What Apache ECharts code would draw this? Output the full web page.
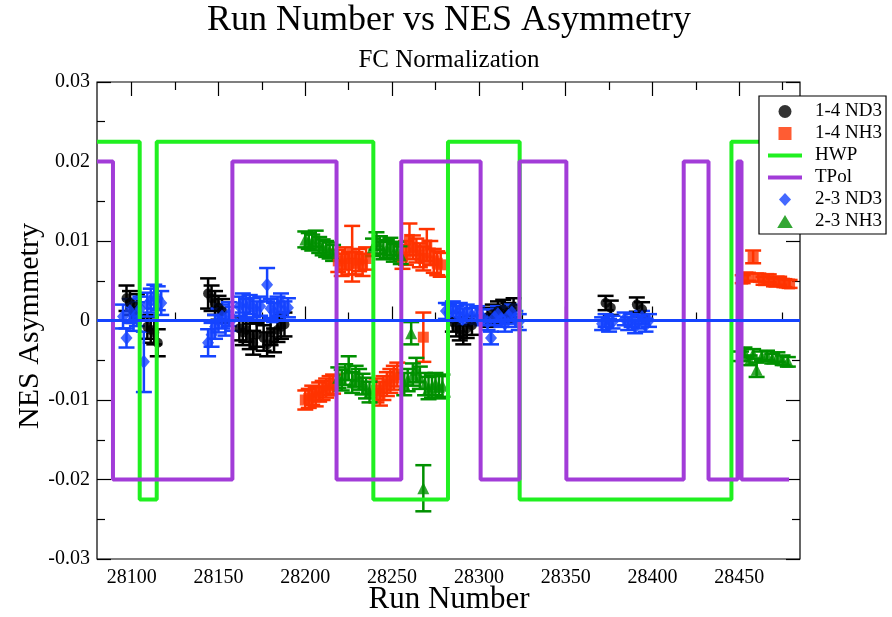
<!DOCTYPE html>
<html>
<head>
<meta charset="utf-8">
<script src="https://cdn.jsdelivr.net/npm/echarts@6/dist/echarts.min.js"></script>
<style>
  html, body { margin: 0; padding: 0; background: #fff; }
  #chart { width: 892px; height: 617px; }
</style>
</head>
<body>
<div id="chart"></div>
<script>
// axis ticks
const xMajorTicks = [28100, 28150, 28200, 28250, 28300, 28350, 28400, 28450];
const xMinorTicks = [28125, 28175, 28225, 28275, 28325, 28375, 28425, 28475];

// 1-4 ND3 (black circles)
const nd14Runs = [28097, 28099, 28101, 28103, 28109, 28111, 28113, 28115,
  28144, 28146, 28148, 28150, 28152,
  28162, 28164, 28166, 28168, 28170, 28172,
  28176, 28178, 28180, 28182, 28184, 28186, 28188,
  28285, 28287, 28289, 28291, 28293, 28296,
  28305, 28308, 28311, 28314, 28317, 28320,
  28373, 28376, 28391, 28394];
const nd14Vals = [0.0028, 0.0022, 0.0012, 0.0018, -0.0008, -0.0012, -0.0015, -0.0028,
  0.0034, 0.0028, 0.0022, 0.0016, 0.0012,
  -0.0010, -0.0015, -0.0012, -0.0020, -0.0028, -0.0018,
  -0.0022, -0.0030, -0.0015, -0.0025, -0.0012, -0.0008, -0.0005,
  -0.0002, -0.0008, -0.0012, -0.0018, -0.0010, -0.0006,
  0.0004, 0.0008, 0.0012, 0.0014, 0.0010, 0.0016,
  0.0022, 0.0016, 0.0020, 0.0014];
const nd14Errs = [0.0016, 0.0015, 0.0015, 0.0015, 0.0015, 0.0016, 0.0015, 0.0017,
  0.0019, 0.0016, 0.0015, 0.0015, 0.0015,
  0.0015, 0.0016, 0.0015, 0.0016, 0.0015, 0.0015,
  0.0016, 0.0015, 0.0016, 0.0015, 0.0015, 0.0015, 0.0015,
  0.0012, 0.0012, 0.0013, 0.0012, 0.0012, 0.0012,
  0.0012, 0.0012, 0.0012, 0.0012, 0.0012, 0.0012,
  0.0009, 0.0009, 0.0009, 0.0009];

// 1-4 NH3 (red squares)
const nh14Runs = [28200, 28202, 28204, 28206, 28208, 28210, 28212, 28214, 28216,
  28219, 28221, 28223, 28225, 28227, 28229, 28231, 28233, 28235,
  28241, 28243, 28245, 28247, 28249, 28251, 28253,
  28256, 28258, 28260, 28262, 28264, 28266, 28268, 28270, 28272, 28274, 28276, 28278,
  28268,
  28452, 28455, 28458, 28461, 28464, 28467, 28470, 28473, 28476, 28479];
const nh14Vals = [-0.0100, -0.0098, -0.0094, -0.0096, -0.0090, -0.0088, -0.0085, -0.0082, -0.0080,
  0.0075, 0.0070, 0.0078, 0.0072, 0.0084, 0.0072, 0.0076, 0.0070, 0.0078,
  -0.0088, -0.0092, -0.0085, -0.0080, -0.0076, -0.0072, -0.0068,
  0.0080, 0.0085, 0.0102, 0.0092, 0.0088, 0.0082, 0.0078, 0.0095, 0.0085, 0.0075, 0.0072, 0.0070,
  -0.0021,
  0.0052, 0.0055, 0.0080, 0.0054, 0.0050, 0.0053, 0.0048, 0.0050, 0.0047, 0.0046];
const nh14Errs = [0.0012, 0.0012, 0.0012, 0.0012, 0.0012, 0.0012, 0.0012, 0.0012, 0.0012,
  0.0014, 0.0014, 0.0014, 0.0014, 0.0035, 0.0014, 0.0014, 0.0014, 0.0014,
  0.0015, 0.0015, 0.0015, 0.0015, 0.0015, 0.0015, 0.0015,
  0.0015, 0.0015, 0.0020, 0.0015, 0.0015, 0.0015, 0.0015, 0.0020, 0.0015, 0.0015, 0.0015, 0.0015,
  0.0031,
  0.0005, 0.0005, 0.0008, 0.0005, 0.0005, 0.0005, 0.0005, 0.0005, 0.0005, 0.0005];

// 2-3 ND3 (blue diamonds)
const nd23Runs = [28095, 28097, 28099, 28101, 28103, 28105, 28107, 28109, 28111, 28113, 28115, 28117,
  28144, 28146, 28148, 28150, 28152, 28154, 28156, 28158,
  28162, 28164, 28166, 28168, 28170, 28172, 28174, 28178, 28180, 28182, 28184, 28186, 28188, 28190,
  28281, 28283, 28285, 28287, 28289, 28291, 28293, 28296, 28299, 28302,
  28305, 28307, 28309, 28311, 28313, 28315, 28317, 28319, 28321, 28323,
  28371, 28373, 28375, 28377, 28384, 28386, 28388, 28390, 28392, 28394, 28396, 28398];
const nd23Vals = [0.0005, -0.0022, 0.0012, 0.0002, 0.0008, 0.0015, -0.0052, 0.0020, 0.0025, 0.0030, 0.0028, 0.0022,
  -0.0028, -0.0018, -0.0008, 0.0000, 0.0005, -0.0004, 0.0008, 0.0002,
  0.0018, 0.0022, 0.0015, 0.0020, 0.0016, 0.0012, 0.0018, 0.0045, 0.0015, 0.0010, 0.0018, 0.0022, 0.0012, 0.0016,
  0.0012, 0.0010, 0.0014, 0.0008, 0.0012, 0.0005, 0.0010, 0.0006, 0.0008, 0.0004,
  -0.0002, -0.0022, 0.0004, 0.0008, 0.0002, -0.0004, 0.0006, 0.0010, 0.0002, -0.0002,
  -0.0004, 0.0000, -0.0006, -0.0002, 0.0002, -0.0004, 0.0000, -0.0008, -0.0002, 0.0004, -0.0006, 0.0000];
const nd23Errs = [0.0015, 0.0012, 0.0015, 0.0015, 0.0015, 0.0015, 0.0038, 0.0015, 0.0015, 0.0015, 0.0015, 0.0015,
  0.0017, 0.0015, 0.0015, 0.0015, 0.0015, 0.0015, 0.0015, 0.0015,
  0.0012, 0.0012, 0.0012, 0.0012, 0.0012, 0.0012, 0.0012, 0.0021, 0.0012, 0.0012, 0.0012, 0.0012, 0.0012, 0.0012,
  0.0010, 0.0010, 0.0010, 0.0010, 0.0010, 0.0010, 0.0010, 0.0010, 0.0010, 0.0010,
  0.0010, 0.0008, 0.0010, 0.0010, 0.0010, 0.0010, 0.0010, 0.0010, 0.0010, 0.0010,
  0.0008, 0.0008, 0.0008, 0.0008, 0.0008, 0.0008, 0.0008, 0.0008, 0.0008, 0.0008, 0.0008, 0.0008];

// 2-3 NH3 (green triangles)
const nh23Runs = [28200, 28202, 28204, 28206, 28208, 28210, 28212, 28214, 28216,
  28219, 28221, 28223, 28225, 28227, 28229, 28231, 28233, 28235, 28237,
  28239, 28241, 28243, 28245, 28247, 28249, 28251, 28253, 28255,
  28257, 28259, 28262, 28264, 28266, 28269, 28271, 28273, 28275, 28277, 28279,
  28261, 28268,
  28451, 28453, 28456, 28458, 28460, 28463, 28466, 28469, 28472, 28475, 28478];
const nh23Vals = [0.0102, 0.0100, 0.0098, 0.0103, 0.0095, 0.0092, 0.0090, 0.0088, 0.0085,
  -0.0072, -0.0075, -0.0068, -0.0060, -0.0078, -0.0070, -0.0074, -0.0080, -0.0085, -0.0090,
  0.0092, 0.0100, 0.0095, 0.0088, 0.0090, 0.0093, 0.0085, 0.0088, 0.0082,
  -0.0080, -0.0075, -0.0068, -0.0062, -0.0072, -0.0080, -0.0085, -0.0083, -0.0080, -0.0084, -0.0082,
  -0.0016, -0.0211,
  -0.0045, -0.0040, -0.0050, -0.0042, -0.0062, -0.0045, -0.0044, -0.0048, -0.0046, -0.0050, -0.0052];
const nh23Errs = [0.0010, 0.0010, 0.0010, 0.0010, 0.0010, 0.0010, 0.0010, 0.0010, 0.0010,
  0.0013, 0.0013, 0.0013, 0.0015, 0.0013, 0.0013, 0.0013, 0.0013, 0.0013, 0.0013,
  0.0011, 0.0011, 0.0011, 0.0011, 0.0011, 0.0011, 0.0011, 0.0011, 0.0011,
  0.0014, 0.0014, 0.0014, 0.0015, 0.0014, 0.0014, 0.0014, 0.0014, 0.0014, 0.0014, 0.0014,
  0.0014, 0.0029,
  0.0006, 0.0006, 0.0006, 0.0006, 0.0009, 0.0006, 0.0006, 0.0006, 0.0006, 0.0006, 0.0006];

// HWP and TPol state: level holds from run[i] up to run[i+1]
const hwpRuns = [28080, 28104.6, 28114.4, 28239.2, 28282.2, 28323.5, 28445.5, 28485];
const hwpLevels = [0.0225, -0.0225, 0.0225, -0.0225, 0.0225, -0.0225, 0.0225, 0.0225];
const tpolRuns = [28080, 28089.2, 28158, 28218, 28255.3, 28301, 28323.4, 28350.4, 28418, 28432.3, 28449, 28451.3, 28478.7];
const tpolLevels = [0.02, -0.02, 0.02, -0.02, 0.02, -0.02, 0.02, -0.02, 0.02, -0.02, 0.02, -0.02, -0.02];

const zeroRuns = [28080, 28485];
const zeroVals = [0, 0];

const SERIF = '"Liberation Serif", "DejaVu Serif", serif';
const cRed = '#ff3300', cBlue = '#1544ff', cDark = '#009000', cHwp = '#20f020', cTpol = '#a23cd8';

const zip = (a, b) => a.map((v, i) => [v, b[i]]);

function errBars(xs, ys, es, color) {
  return {
    type: 'custom',
    silent: true,
    clip: true,
    data: xs.map((x, i) => [x, ys[i] - es[i], ys[i] + es[i]]),
    encode: { x: 0, y: [1, 2] },
    renderItem: function (params, api) {
      const x = api.value(0);
      const lo = api.coord([x, api.value(1)]);
      const hi = api.coord([x, api.value(2)]);
      const w = 8;
      const style = { stroke: color, lineWidth: 2.5 };
      return {
        type: 'group',
        children: [
          { type: 'line', shape: { x1: hi[0], y1: hi[1], x2: lo[0], y2: lo[1] }, style: style },
          { type: 'line', shape: { x1: hi[0] - w, y1: hi[1], x2: hi[0] + w, y2: hi[1] }, style: style },
          { type: 'line', shape: { x1: lo[0] - w, y1: lo[1], x2: lo[0] + w, y2: lo[1] }, style: style }
        ]
      };
    }
  };
}

function points(name, xs, ys, symbol, size, color) {
  return {
    name: name, type: 'scatter', symbol: symbol, symbolSize: size,
    itemStyle: { color: color }, data: zip(xs, ys), silent: true
  };
}

function stepLine(name, xs, ys, color) {
  return {
    name: name, type: 'line', step: 'end', symbol: 'none', showSymbol: false,
    lineStyle: { color: color, width: 4 }, itemStyle: { color: color },
    data: zip(xs, ys), silent: true
  };
}

const baseX = { type: 'value', min: 28080, max: 28485, splitLine: { show: false }, axisLine: { show: false } };
const tickStyle = { color: '#000', width: 1.2 };
const hidden = { color: 'rgba(0,0,0,0)', borderWidth: 0 };

const option = {
  animation: false,
  backgroundColor: '#fff',
  grid: { left: 97, right: 92, top: 82, bottom: 58, show: true, borderColor: '#000', borderWidth: 1.2, backgroundColor: 'transparent' },
  xAxis: [
    Object.assign({}, baseX, {
      position: 'bottom',
      axisTick: { inside: true, length: 14, lineStyle: tickStyle, customValues: xMajorTicks },
      axisLabel: { customValues: xMajorTicks, margin: 9, color: '#000', fontFamily: SERIF, fontSize: 20, formatter: v => String(v) }
    }),
    Object.assign({}, baseX, {
      position: 'bottom',
      axisTick: { inside: true, length: 8, lineStyle: tickStyle, customValues: xMinorTicks },
      axisLabel: { show: false, customValues: xMinorTicks }
    }),
    Object.assign({}, baseX, {
      position: 'top',
      axisTick: { inside: true, length: 14, lineStyle: tickStyle, customValues: xMajorTicks },
      axisLabel: { show: false, customValues: xMajorTicks }
    }),
    Object.assign({}, baseX, {
      position: 'top',
      axisTick: { inside: true, length: 8, lineStyle: tickStyle, customValues: xMinorTicks },
      axisLabel: { show: false, customValues: xMinorTicks }
    })
  ],
  yAxis: [
    {
      type: 'value', position: 'left', min: -0.03, max: 0.03, interval: 0.01,
      splitLine: { show: false }, axisLine: { show: false },
      axisTick: { inside: true, length: 14, lineStyle: tickStyle },
      minorTick: { show: true, splitNumber: 2, length: 8, lineStyle: tickStyle },
      axisLabel: {
        margin: 7, color: '#000', fontFamily: SERIF, fontSize: 20,
        formatter: v => Math.abs(v) < 1e-9 ? '0' : v.toFixed(2)
      }
    },
    {
      type: 'value', position: 'right', min: -0.03, max: 0.03, interval: 0.01,
      splitLine: { show: false }, axisLine: { show: false },
      axisTick: { inside: true, length: 14, lineStyle: tickStyle },
      minorTick: { show: true, splitNumber: 2, length: 8, lineStyle: tickStyle },
      axisLabel: { show: false }
    }
  ],
  legend: {
    orient: 'vertical', left: 759, top: 96,
    backgroundColor: '#fff', borderColor: '#000', borderWidth: 1.2, borderRadius: 0,
    padding: [6, 4, 3, 7], itemWidth: 34, itemHeight: 13, itemGap: 3,
    selectedMode: false, symbolKeepAspect: true,
    textStyle: { fontFamily: SERIF, fontSize: 19, color: '#000', padding: [0, 0, 0, 8] },
    data: [
      { name: '1-4 ND3', icon: 'circle' },
      { name: '1-4 NH3', icon: 'path://M0,0H11V11H0Z' },
      { name: 'HWP', itemStyle: hidden, lineStyle: { width: 4 } },
      { name: 'TPol', itemStyle: hidden, lineStyle: { width: 4 } },
      { name: '2-3 ND3', icon: 'path://M6,0L12,6.5L6,13L0,6.5Z' },
      { name: '2-3 NH3', icon: 'path://M6,0L12,10L0,10Z' }
    ]
  },
  graphic: [
    { type: 'text', x: 449, y: 21, style: { text: 'Run Number vs NES Asymmetry', font: '36px ' + SERIF, fill: '#000', align: 'center', verticalAlign: 'middle' } },
    { type: 'text', x: 449, y: 60, style: { text: 'FC Normalization', font: '25px ' + SERIF, fill: '#000', align: 'center', verticalAlign: 'middle' } },
    { type: 'text', x: 449, y: 600, style: { text: 'Run Number', font: '31px ' + SERIF, fill: '#000', align: 'center', verticalAlign: 'middle' } },
    { type: 'text', x: 30, y: 326, rotation: Math.PI / 2, style: { text: 'NES Asymmetry', font: '30px ' + SERIF, fill: '#000', align: 'center', verticalAlign: 'middle' } }
  ],
  series: [
    errBars(nd14Runs, nd14Vals, nd14Errs, '#000'),
    points('1-4 ND3', nd14Runs, nd14Vals, 'circle', 10, '#000'),
    errBars(nh14Runs, nh14Vals, nh14Errs, cRed),
    points('1-4 NH3', nh14Runs, nh14Vals, 'rect', 11, cRed),
    stepLine('HWP', hwpRuns, hwpLevels, cHwp),
    stepLine('TPol', tpolRuns, tpolLevels, cTpol),
    errBars(nd23Runs, nd23Vals, nd23Errs, cBlue),
    points('2-3 ND3', nd23Runs, nd23Vals, 'diamond', [12, 14], cBlue),
    errBars(nh23Runs, nh23Vals, nh23Errs, cDark),
    points('2-3 NH3', nh23Runs, nh23Vals, 'triangle', 12, cDark),
    {
      type: 'line', symbol: 'none', silent: true,
      lineStyle: { color: cBlue, width: 3 }, data: zip(zeroRuns, zeroVals)
    }
  ]
};

const chart = echarts.init(document.getElementById('chart'));
chart.setOption(option);
</script>
</body>
</html>
